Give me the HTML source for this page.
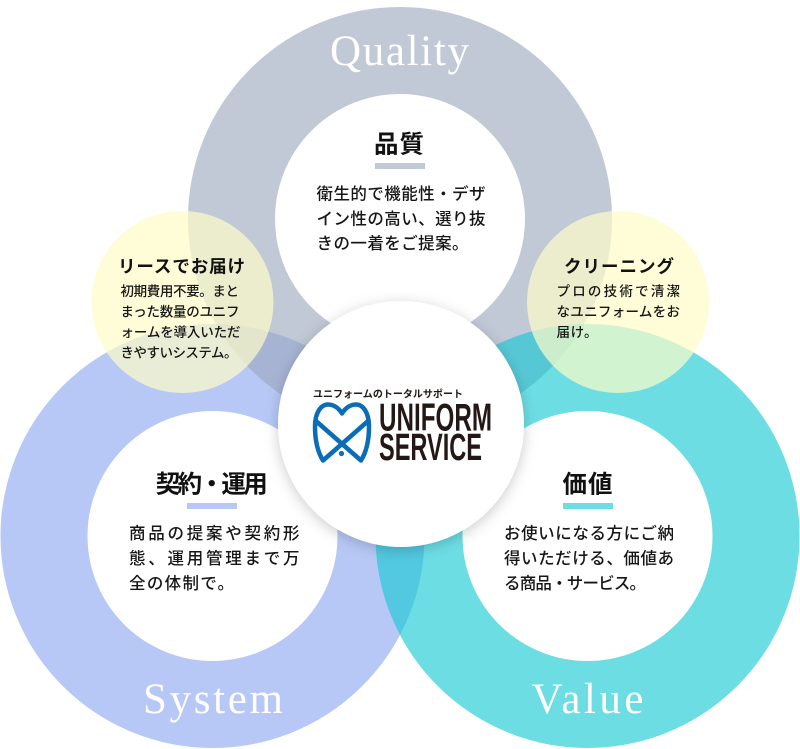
<!DOCTYPE html>
<html lang="ja">
<head>
<meta charset="utf-8">
<title>Uniform Service</title>
<style>
  html, body { margin: 0; padding: 0; background: #ffffff; }
  body { width: 800px; height: 749px; overflow: hidden; }
  svg { display: block; }
  .jp { font-family: "Liberation Sans", "Noto Sans CJK JP", sans-serif; fill: #161616; font-weight: 500; }
  .ttl { font-weight: 700; fill: #111111; }
  .ser { font-family: "Liberation Serif", serif; fill: #ffffff; }
</style>
</head>
<body>
<svg width="800" height="749" viewBox="0 0 800 749" xmlns="http://www.w3.org/2000/svg">
  <defs>
    <filter id="sh" x="-25%" y="-25%" width="150%" height="150%">
      <feDropShadow dx="0" dy="3" stdDeviation="7" flood-color="#000000" flood-opacity="0.2"/>
    </filter>
  </defs>

  <!-- Rings -->
  <circle cx="212.5" cy="536" r="168.5" fill="none" stroke="#b7c8f6" stroke-width="87"/>
  <circle cx="400" cy="219" r="168.5" fill="none" stroke="rgb(156,167,189)" stroke-opacity="0.625" stroke-width="87"/>
  <circle cx="587.5" cy="536" r="168.5" fill="none" stroke="rgb(21,201,212)" stroke-opacity="0.625" stroke-width="87"/>

  <!-- Yellow circles -->
  <circle cx="182.5" cy="302" r="91" fill="rgb(254,252,200)" fill-opacity="0.7"/>
  <circle cx="618" cy="302" r="91" fill="rgb(254,252,200)" fill-opacity="0.7"/>

  <!-- Center logo circle -->
  <circle cx="401" cy="424" r="123" fill="#ffffff" filter="url(#sh)"/>

  <!-- Ring labels -->
  <text class="ser" x="399.5" y="65" font-size="43" text-anchor="middle" textLength="139" lengthAdjust="spacing">Quality</text>
  <text class="ser" x="213" y="713" font-size="43" text-anchor="middle" textLength="140" lengthAdjust="spacing">System</text>
  <text class="ser" x="587.5" y="713" font-size="43" text-anchor="middle" textLength="112" lengthAdjust="spacing">Value</text>

  <!-- Quality -->
  <text class="jp ttl" x="399" y="152.5" font-size="24.5" text-anchor="middle" textLength="50" lengthAdjust="spacing">品質</text>
  <rect x="375" y="163" width="50" height="6" fill="#c1c8d6"/>
  <text class="jp" x="316.5" y="199.6" font-size="16.5" textLength="169" lengthAdjust="spacing">衛生的で機能性・デザ</text>
  <text class="jp" x="316.5" y="224.6" font-size="16.5" textLength="169" lengthAdjust="spacing">イン性の高い、選り抜</text>
  <text class="jp" x="316.5" y="248.8" font-size="16.5" textLength="152" lengthAdjust="spacing">きの一着をご提案。</text>

  <!-- System -->
  <text class="jp ttl" x="211.7" y="492.5" font-size="24.5" text-anchor="middle" textLength="112" lengthAdjust="spacing">契約・運用</text>
  <rect x="187" y="503" width="50" height="6" fill="#b7c8f6"/>
  <text class="jp" x="129" y="538.8" font-size="16.5" textLength="170.5" lengthAdjust="spacing">商品の提案や契約形</text>
  <text class="jp" x="129" y="563.8" font-size="16.5" textLength="170.5" lengthAdjust="spacing">態、運用管理まで万</text>
  <text class="jp" x="129" y="588.8" font-size="16.5" textLength="105" lengthAdjust="spacing">全の体制で。</text>

  <!-- Value -->
  <text class="jp ttl" x="587.5" y="492.5" font-size="24.5" text-anchor="middle" textLength="50" lengthAdjust="spacing">価値</text>
  <rect x="563" y="503" width="50" height="6" fill="#6ddde4"/>
  <text class="jp" x="504" y="538.8" font-size="16.5" textLength="170" lengthAdjust="spacing">お使いになる方にご納</text>
  <text class="jp" x="504" y="563.8" font-size="16.5" textLength="170" lengthAdjust="spacing">得いただける、価値あ</text>
  <text class="jp" x="504" y="588.8" font-size="16.5" textLength="142" lengthAdjust="spacing">る商品・サービス。</text>

  <!-- Left yellow -->
  <text class="jp ttl" x="181.5" y="272.7" font-size="17.5" text-anchor="middle" textLength="127" lengthAdjust="spacing">リースでお届け</text>
  <text class="jp" x="120.5" y="296" font-size="13.5" textLength="118.5" lengthAdjust="spacing">初期費用不要。まと</text>
  <text class="jp" x="120.5" y="316.5" font-size="13.5" textLength="119" lengthAdjust="spacing">まった数量のユニフ</text>
  <text class="jp" x="120.5" y="337" font-size="13.5" textLength="120" lengthAdjust="spacing">ォームを導入いただ</text>
  <text class="jp" x="120.5" y="357.5" font-size="13.5" textLength="117" lengthAdjust="spacing">きやすいシステム。</text>

  <!-- Right yellow -->
  <text class="jp ttl" x="619" y="272.7" font-size="17.5" text-anchor="middle" textLength="110" lengthAdjust="spacing">クリーニング</text>
  <text class="jp" x="556.5" y="296" font-size="13.5" textLength="123.5" lengthAdjust="spacing">プロの技術で清潔</text>
  <text class="jp" x="556.5" y="316.5" font-size="13.5" textLength="123.5" lengthAdjust="spacing">なユニフォームをお</text>
  <text class="jp" x="556.5" y="337" font-size="13.5" textLength="41" lengthAdjust="spacing">届け。</text>

  <!-- Logo -->
  <text class="jp ttl" x="313" y="397.5" font-size="10" textLength="150" lengthAdjust="spacingAndGlyphs" style="fill:#231815">ユニフォームのトータルサポート</text>
  <g transform="translate(313,402.5)" fill="none" stroke="#0b6cb8" stroke-width="4.5" stroke-linejoin="round" stroke-linecap="round">
    <path d="M54.5,19 L10,58 C5,50 2,38 2,24 C2,10 8,2 15,2 C21,2 26,6 29,11 C32,6 37,2 43,2 C50,2 56,10 56,24 C56,38 53,50 48,58 L3.5,19"/>
  </g>
  <circle cx="341.5" cy="453.5" r="2.6" fill="#0b6cb8"/>
  <text x="379" y="430.7" font-family="Liberation Sans, sans-serif" font-weight="700" font-size="38.5" fill="#231815" textLength="113" lengthAdjust="spacingAndGlyphs">UNIFORM</text>
  <text x="379" y="460" font-family="Liberation Sans, sans-serif" font-weight="700" font-size="38" fill="#231815" textLength="103" lengthAdjust="spacingAndGlyphs">SERVICE</text>
</svg>
</body>
</html>
